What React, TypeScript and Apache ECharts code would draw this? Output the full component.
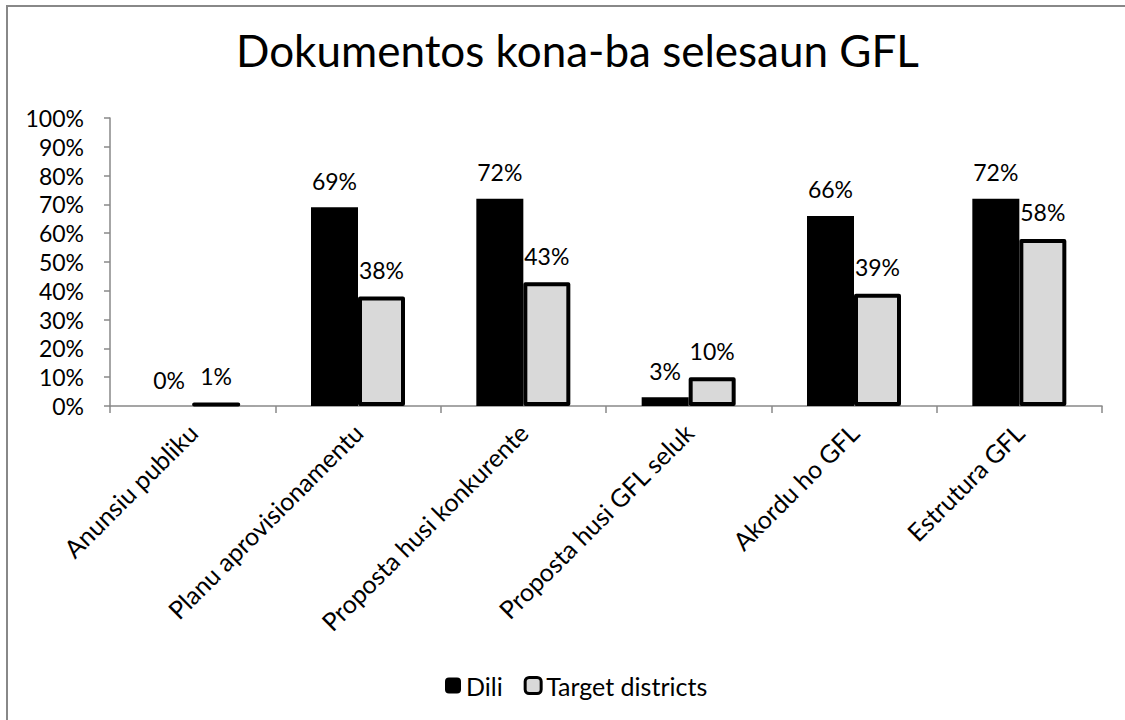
import React, { useEffect, useRef } from "react";
import * as echarts from "echarts";

const categories = [
  "Anunsiu publiku",
  "Planu aprovisionamentu",
  "Proposta husi konkurente",
  "Proposta husi GFL seluk",
  "Akordu ho GFL",
  "Estrutura GFL",
];
const dili = [0, 69, 72, 3, 66, 72];
const targetDistricts = [1, 38, 43, 10, 39, 58];
const yTicks = [0, 10, 20, 30, 40, 50, 60, 70, 80, 90, 100];

const FONT = "Lato, 'Open Sans', sans-serif";

export default function App() {
  const ref = useRef<HTMLDivElement>(null);
  useEffect(() => {
    if (!ref.current) return;
    const chart = echarts.init(ref.current, undefined, { renderer: "svg" });
    const labelStyle = {
      show: true,
      position: "top",
      distance: 15,
      formatter: "{c}%",
      fontFamily: FONT,
      fontSize: 23,
      color: "#000",
    };
    chart.setOption({
      animation: false,
      backgroundColor: "#ffffff",
      textStyle: { fontFamily: FONT, color: "#000" },
      title: {
        text: "Dokumentos kona-ba selesaun GFL",
        left: 231,
        top: 23,
        textStyle: { fontFamily: FONT, fontSize: 44, fontWeight: "normal", color: "#000" },
      },
      graphic: [
        {
          type: "rect",
          shape: { x: 7, y: 6, width: 1125, height: 720 },
          style: { fill: "none", stroke: "#888888", lineWidth: 2 },
          silent: true,
        },
      ],
      legend: {
        bottom: 17,
        left: 440,
        itemWidth: 16,
        itemHeight: 16,
        itemGap: 21,
        textStyle: { fontFamily: FONT, fontSize: 25, color: "#000" },
        data: [
          { name: "Dili", itemStyle: { color: "#000", borderWidth: 0 } },
          { name: "Target districts", itemStyle: { color: "#d9d9d9", borderColor: "#000", borderWidth: 3 } },
        ],
      },
      grid: { left: 110, right: 23, top: 118, bottom: 314, containLabel: false },
      xAxis: {
        type: "category",
        data: categories,
        axisLine: { lineStyle: { color: "#888888", width: 1.5 } },
        axisTick: { show: true, length: 7, lineStyle: { color: "#888888", width: 1.5 } },
        axisLabel: {
          rotate: 45,
          interval: 0,
          fontFamily: FONT,
          fontSize: 25,
          color: "#000",
          margin: 22,
        },
      },
      yAxis: {
        type: "value",
        min: 0,
        max: 100,
        interval: 10,
        splitLine: { show: false },
        axisLine: { show: true, lineStyle: { color: "#888888", width: 1.5 } },
        axisTick: { show: true, length: 6, lineStyle: { color: "#888888", width: 1.5 } },
        axisLabel: {
          fontFamily: FONT,
          fontSize: 23,
          color: "#000",
          margin: 26,
          formatter: (v: number) => (yTicks.includes(v) ? v + "%" : ""),
        },
      },
      series: [
        {
          name: "Dili",
          type: "bar",
          data: dili,
          barWidth: 47,
          barGap: "0%",
          itemStyle: { color: "#000" },
          label: labelStyle,
        },
        {
          name: "Target districts",
          type: "bar",
          data: targetDistricts,
          barWidth: 47,
          itemStyle: { color: "#d9d9d9", borderColor: "#000", borderWidth: 4, borderJoin: "round" },
          label: labelStyle,
        },
      ],
    });
    return () => chart.dispose();
  }, []);
  return (
    <div
      ref={ref}
      style={{ position: "fixed", left: 0, top: 0, width: 1125, height: 720 }}
    />
  );
}
